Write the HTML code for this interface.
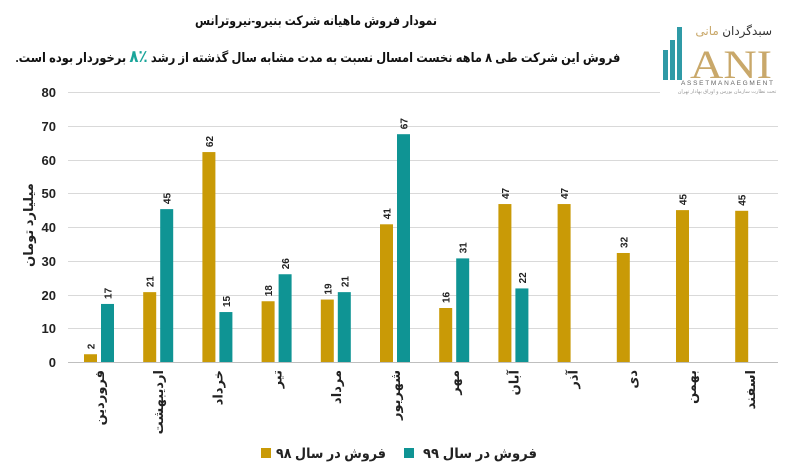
<!DOCTYPE html>
<html><head><meta charset="utf-8"><style>
body{margin:0;background:#fff;position:relative;width:793px;height:474px;overflow:hidden;}
svg{display:block;font-family:"Liberation Sans","DejaVu Sans",sans-serif;}
.t{position:absolute;font-family:"Liberation Sans","DejaVu Sans",sans-serif;font-weight:bold;color:#111;white-space:nowrap;direction:rtl;}
</style></head><body>
<svg width="793" height="474" xmlns="http://www.w3.org/2000/svg" style="position:absolute;left:0;top:0">
<g>
<rect x="663" y="50" width="5" height="30" fill="#2f9aa6"/>
<rect x="670" y="40" width="5" height="40" fill="#2f9aa6"/>
<rect x="677" y="27" width="5" height="53" fill="#2f9aa6"/>
<text x="690" y="78" font-family="Liberation Serif,serif" font-size="40" fill="#c9a86a" textLength="82" lengthAdjust="spacingAndGlyphs">ANI</text>
<text x="772" y="35" text-anchor="end" font-size="12" fill="#333">سبدگردان <tspan fill="#c9a86a">مانی</tspan></text>
<text x="727" y="85" text-anchor="middle" font-size="6.5" fill="#666" textLength="92">ASSETMANAEGMENT</text>
<text x="727" y="93" text-anchor="middle" font-size="5" fill="#999">تحت نظارت سازمان بورس و اوراق بهادار تهران</text>
</g>
<g stroke="#d9d9d9" stroke-width="1">
<line x1="68" y1="92.5" x2="660" y2="92.5"/>
<line x1="68" y1="126.5" x2="778" y2="126.5"/>
<line x1="68" y1="160.5" x2="778" y2="160.5"/>
<line x1="68" y1="193.5" x2="778" y2="193.5"/>
<line x1="68" y1="227.5" x2="778" y2="227.5"/>
<line x1="68" y1="261.5" x2="778" y2="261.5"/>
<line x1="68" y1="295.5" x2="778" y2="295.5"/>
<line x1="68" y1="328.5" x2="778" y2="328.5"/>
</g>
<line x1="68" y1="362.5" x2="778" y2="362.5" stroke="#bfbfbf"/>
<g font-size="13" font-weight="bold" fill="#222" text-anchor="end">
<text x="56" y="97">80</text><text x="56" y="131">70</text><text x="56" y="165">60</text><text x="56" y="198">50</text><text x="56" y="232">40</text><text x="56" y="266">30</text><text x="56" y="300">20</text><text x="56" y="333">10</text><text x="56" y="367">0</text>
</g>
<text transform="translate(33,225) rotate(-90)" text-anchor="middle" font-size="13" font-weight="bold" fill="#222">میلیارد تومان</text>
<g id="bars"></g>
<rect x="261" y="448" width="10" height="10" fill="#c99a06"/>
<rect x="404" y="448" width="10" height="10" fill="#0f9494"/>
<text x="386" y="458" text-anchor="end" font-size="14" font-weight="bold" fill="#222" textLength="110" lengthAdjust="spacingAndGlyphs">فروش در سال ۹۸</text>
<text x="537" y="458" text-anchor="end" font-size="14" font-weight="bold" fill="#222" textLength="114" lengthAdjust="spacingAndGlyphs">فروش در سال ۹۹</text>
<text x="316" y="25" text-anchor="middle" font-size="13" font-weight="bold" fill="#111" textLength="242" lengthAdjust="spacingAndGlyphs">نمودار فروش ماهیانه شرکت بنیرو-نیروترانس</text>
</svg>
<div class="t" style="right:173px;top:47px;font-size:13px;transform:scaleX(0.88);transform-origin:right center;">فروش این شرکت طی ۸ ماهه نخست امسال نسبت به مدت مشابه سال گذشته از رشد <span style="color:#1aa59a;font-size:17px">٪۸</span> برخوردار بوده است.</div>
<script>
var g98=[2.3,20.7,62.2,18,18.5,40.8,16,46.8,46.8,32.3,45,44.8],
g99=[17.2,45.3,14.8,26,20.7,67.5,30.7,21.8],
l98=[2,21,62,18,19,41,16,47,47,32,45,45],l99=[17,45,15,26,21,67,31,22],
m=["فروردین","اردیبهشت","خرداد","تیر","مرداد","شهریور","مهر","آبان","آذر","دی","بهمن","اسفند"];
var s="",Y=362,k=3.375;
for(var i=0;i<12;i++){var c=99+i*59.2;
var h=g98[i]*k;s+='<rect x="'+(c-15)+'" y="'+(Y-h)+'" width="13" height="'+h+'" fill="#c99a06"/>';
s+='<text transform="translate('+(c-4.5)+','+(Y-h-5)+') rotate(-90)" font-size="10" font-weight="bold" fill="#222">'+l98[i]+'</text>';
if(i<8){h=g99[i]*k;s+='<rect x="'+(c+2)+'" y="'+(Y-h)+'" width="13" height="'+h+'" fill="#0f9494"/>';
s+='<text transform="translate('+(c+12.5)+','+(Y-h-5)+') rotate(-90)" font-size="10" font-weight="bold" fill="#222">'+l99[i]+'</text>';}
s+='<text transform="translate('+(c+5)+',370) rotate(-90)" font-size="13" font-weight="bold" fill="#222" text-anchor="end">'+m[i]+'</text>';}
document.getElementById("bars").innerHTML=s;
</script>
</body></html>
